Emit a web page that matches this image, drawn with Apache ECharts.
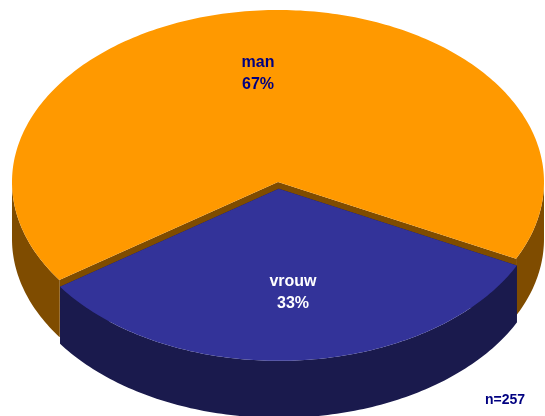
<!DOCTYPE html>
<html>
<head>
<meta charset="utf-8">
<style>
  html, body { margin: 0; padding: 0; background: #ffffff; }
  #chart { width: 545px; height: 416px; }
</style>
<script src="https://cdn.jsdelivr.net/npm/echarts@6/dist/echarts.min.js"></script>
</head>
<body>
<div id="chart"></div>
<script>
// Respondents by gender
const categories = ['man', 'vrouw'];
const values = [67, 33];
const respondents = 257;

// Drawing style
const topColors = ['#FF9900', '#333399'];
const sideColors = ['#7F4C00', '#1A1A4D'];
const labelColors = ['#000080', '#FFFFFF'];
const explodeBy = [0, 0.04];

// Layout of the tilted disc (pixels)
const disc = { cx: 278, cy: 182, rx: 266, ry: 172, depth: 57, startAngle: 145.3 };
const labelAnchor = [[258, 74], [293, 293]];

const total = values.reduce((s, v) => s + v, 0);

function point(angle, ox, oy, down) {
  const t = angle * Math.PI / 180;
  return [disc.cx + ox + disc.rx * Math.cos(t), disc.cy + oy + disc.ry * Math.sin(t) + down];
}

function arcPoints(a0, a1, ox, oy, down) {
  const n = Math.max(2, Math.ceil(Math.abs(a1 - a0)));
  const pts = [];
  for (let i = 0; i <= n; i++) pts.push(point(a0 + (a1 - a0) * i / n, ox, oy, down));
  return pts;
}

function renderSlice(params, api) {
  const idx = params.dataIndex;
  const value = api.value(0);
  let before = 0;
  for (let i = 0; i < idx; i++) before += values[i];
  const a0 = disc.startAngle + 360 * before / total;
  const a1 = a0 + 360 * value / total;
  const mid = (a0 + a1) / 2 * Math.PI / 180;
  const e = explodeBy[idx];
  const ox = e * disc.rx * Math.cos(mid);
  const oy = e * disc.ry * Math.sin(mid);
  const c = [disc.cx + ox, disc.cy + oy];
  const d = disc.depth;
  const children = [];

  // radial walls
  [a0, a1].forEach(a => {
    const p = point(a, ox, oy, 0);
    children.push({
      type: 'polygon',
      shape: { points: [c, p, [p[0], p[1] + d], [c[0], c[1] + d]] },
      style: { fill: sideColors[idx] }
    });
  });

  // outer wall, only the half facing the viewer (0..180 degrees)
  for (let k = -1; k <= 2; k++) {
    const lo = Math.max(a0, k * 360), hi = Math.min(a1, k * 360 + 180);
    if (hi > lo) {
      const topArc = arcPoints(lo, hi, ox, oy, 0);
      const botArc = arcPoints(hi, lo, ox, oy, d);
      children.push({
        type: 'polygon',
        shape: { points: topArc.concat(botArc) },
        style: { fill: sideColors[idx] }
      });
    }
  }

  // top face
  children.push({
    type: 'polygon',
    shape: { points: [c].concat(arcPoints(a0, a1, ox, oy, 0)) },
    style: { fill: topColors[idx] }
  });

  // label
  children.push({
    type: 'text',
    x: labelAnchor[idx][0],
    y: labelAnchor[idx][1],
    style: {
      text: categories[idx] + '\n' + Math.round(100 * value / total) + '%',
      fill: labelColors[idx],
      font: 'bold 16px Arial, "Liberation Sans", sans-serif',
      align: 'center',
      verticalAlign: 'middle',
      lineHeight: 22
    }
  });

  return { type: 'group', children: children };
}

const chart = echarts.init(document.getElementById('chart'), null, { renderer: 'canvas' });
chart.setOption({
  animation: false,
  backgroundColor: '#ffffff',
  series: [{
    type: 'custom',
    coordinateSystem: 'none',
    data: categories.map((name, i) => ({ name: name, value: [values[i]] })),
    renderItem: renderSlice
  }],
  graphic: [{
    type: 'text',
    right: 20,
    top: 393,
    style: {
      text: 'n=' + respondents,
      fill: '#000080',
      font: 'bold 14px Arial, "Liberation Sans", sans-serif'
    }
  }]
});
</script>
</body>
</html>
